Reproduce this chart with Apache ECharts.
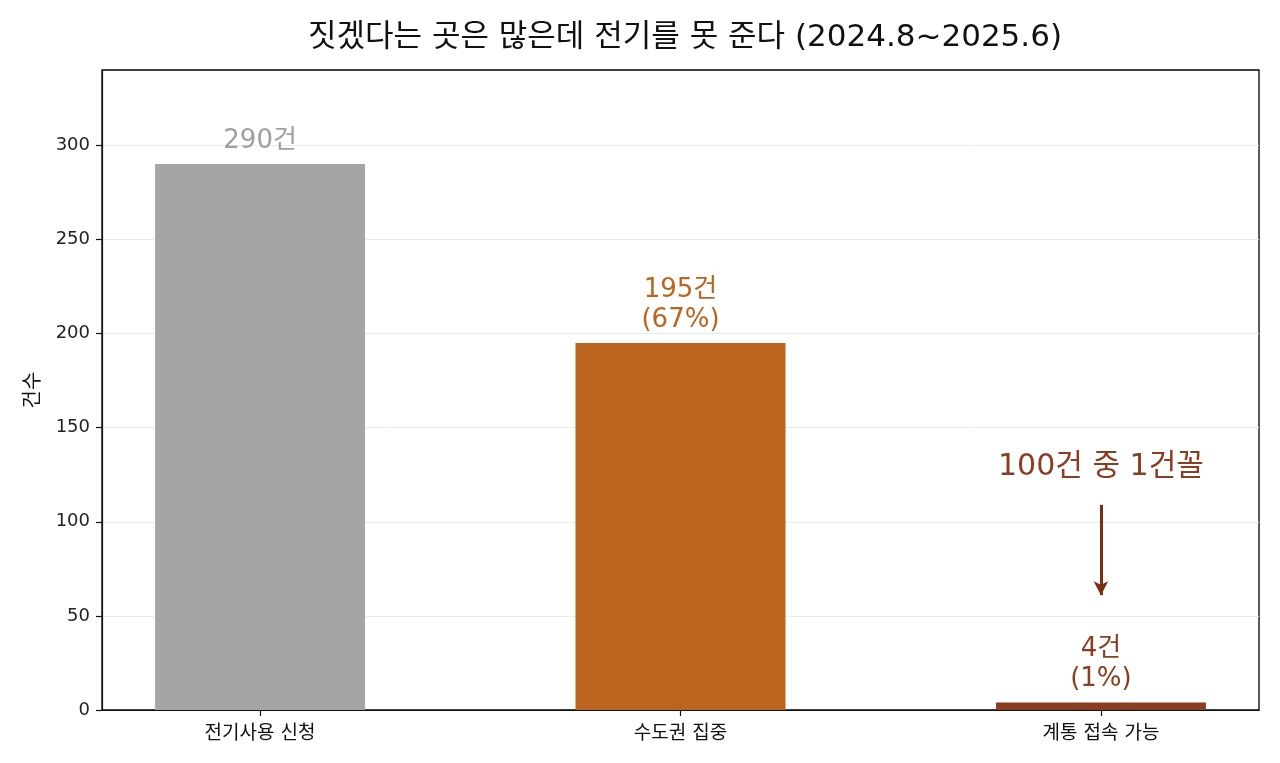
<!DOCTYPE html>
<html>
<head>
<meta charset="utf-8">
<script src="https://cdn.jsdelivr.net/npm/echarts@6/dist/echarts.min.js"></script>
<style>
  html, body { margin: 0; padding: 0; background: #fff; }
  #main { width: 1280px; height: 763px; }
</style>
</head>
<body>
<div id="main"></div>
<script>
// 데이터
var categories = ['전기사용 신청', '수도권 집중', '계통 접속 가능'];
var counts = [290, 195, 4];
var shares = [null, 67, 1];
var barColors = ['#a5a5a5', '#bb6420', '#8b3d22'];
var labelColors = ['#a0a0a0', '#bb6420', '#8b3d22'];
var yTicks = [0, 50, 100, 150, 200, 250, 300];
var noteText = '100건 중 1건꼴';
var noteArrow = [109, 61]; // 화살표 시작/끝 (y값)
var noteTextY = 129;

var fontKo = '"DejaVu Sans", "Noto Sans CJK KR", sans-serif';

var myChart = echarts.init(document.getElementById('main'));

var barData = counts.map(function (v, i) {
  return {
    value: [i, v],
    itemStyle: { color: barColors[i] },
    label: {
      color: labelColors[i],
      formatter: shares[i] == null ? v + '건' : v + '건\n(' + shares[i] + '%)'
    }
  };
});

var option = {
  animation: false,
  title: {
    text: '짓겠다는 곳은 많은데 전기를 못 준다 (2024.8~2025.6)',
    left: 680,
    textAlign: 'center',
    top: 17,
    textStyle: { fontFamily: fontKo, fontSize: 31, fontWeight: 'normal', color: '#111' }
  },
  grid: {
    left: 102, right: 21, top: 70, bottom: 53,
    show: true, borderColor: '#000', borderWidth: 1.3, backgroundColor: 'transparent'
  },
  xAxis: {
    type: 'value',
    min: -0.376,
    max: 2.376,
    axisLine: { show: true, onZero: false, lineStyle: { color: '#111', width: 1.2 } },
    splitLine: { show: false },
    axisTick: { show: true, inside: false, customValues: [0, 1, 2], length: 6, lineStyle: { color: '#111', width: 1.2 } },
    axisLabel: {
      customValues: [0, 1, 2],
      formatter: function (v) { return categories[Math.round(v)]; },
      fontFamily: fontKo, fontSize: 19, color: '#111', margin: 15
    }
  },
  yAxis: {
    type: 'value',
    min: 0,
    max: 340,
    interval: 50,
    name: '건수',
    nameLocation: 'middle',
    nameGap: 58,
    nameRotate: 90,
    nameTextStyle: { fontFamily: fontKo, fontSize: 20, color: '#111' },
    axisLine: { show: true, onZero: false, lineStyle: { color: '#111', width: 1.2 } },
    axisTick: { show: true, inside: false, customValues: yTicks, length: 6, lineStyle: { color: '#111', width: 1.2 } },
    axisLabel: {
      customValues: yTicks,
      fontFamily: fontKo, fontSize: 18, color: '#222', margin: 12,
      padding: [3, 0, 0, 0]
    },
    splitLine: { show: true, lineStyle: { color: '#ebebeb', width: 1 } }
  },
  series: [{
    type: 'bar',
    barWidth: 210,
    data: barData,
    label: {
      show: true,
      position: 'top',
      distance: 8,
      fontFamily: fontKo,
      fontSize: 26,
      lineHeight: 30
    },
    markLine: {
      silent: true,
      symbol: ['none', 'arrow'],
      symbolSize: [11, 14],
      lineStyle: { color: '#7a2e12', width: 3, type: 'solid' },
      label: { show: false },
      data: [[
        { coord: [2, noteArrow[0]] },
        { coord: [2, noteArrow[1]] }
      ]]
    },
    markPoint: {
      silent: true,
      symbol: 'rect',
      symbolSize: 1,
      itemStyle: { color: 'transparent' },
      label: {
        show: true,
        position: 'inside',
        formatter: noteText,
        fontFamily: fontKo,
        fontSize: 30,
        color: '#8b3d22'
      },
      data: [{ coord: [2, noteTextY] }]
    }
  }]
};

myChart.setOption(option);
</script>
</body>
</html>
